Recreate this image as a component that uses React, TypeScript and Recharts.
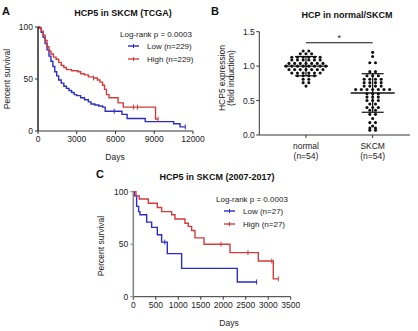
import React from "react";
import {
  LineChart,
  Line,
  ComposedChart,
  Scatter,
  XAxis,
  YAxis,
  ErrorBar,
  ReferenceLine,
  Label,
} from "recharts";

const FONT = "'Liberation Sans', Arial, Helvetica, sans-serif";
const BLUE = "#2d2dc6";
const RED = "#d43b3b";
const AXIS = "#333";

// Panel A: HCP5 in SKCM (TCGA), days vs percent survival (c = censored)
const A_DAY_TICKS = [0, 3000, 6000, 9000, 12000];
const A_PCT_TICKS = [0, 50, 100];
const A_LOW = [
  { d: 0, s: 100 }, { d: 100, s: 99 }, { d: 250, s: 95 }, { d: 400, s: 90 },
  { d: 550, s: 84 }, { d: 700, s: 78 }, { d: 850, s: 72 }, { d: 1000, s: 67 },
  { d: 1150, s: 62 }, { d: 1300, s: 57 }, { d: 1450, s: 53 }, { d: 1600, s: 49 },
  { d: 1800, s: 46 }, { d: 2000, s: 43 }, { d: 2200, s: 41 }, { d: 2400, s: 39 },
  { d: 2600, s: 37 }, { d: 2800, s: 35 }, { d: 3000, s: 34 }, { d: 3300, s: 32 },
  { d: 3600, s: 30 }, { d: 3900, s: 28 }, { d: 4100, s: 26 }, { d: 4400, s: 25 },
  { d: 4700, s: 24 }, { d: 5000, s: 23 }, { d: 5200, s: 19 }, { d: 5900, s: 19, c: 1 },
  { d: 6500, s: 16 }, { d: 6900, s: 12 }, { d: 8300, s: 9 }, { d: 10500, s: 7 },
  { d: 11000, s: 4 }, { d: 11400, s: 4, c: 1 },
];
const A_HIGH = [
  { d: 0, s: 100 }, { d: 150, s: 99 }, { d: 250, s: 96 }, { d: 400, s: 92 },
  { d: 550, s: 87 }, { d: 700, s: 81 }, { d: 850, s: 77 }, { d: 1000, s: 74 },
  { d: 1200, s: 71 }, { d: 1400, s: 69 }, { d: 1600, s: 66 }, { d: 1800, s: 63 },
  { d: 2000, s: 61 }, { d: 2200, s: 59 }, { d: 2600, s: 58 }, { d: 3100, s: 57 },
  { d: 3300, s: 55 }, { d: 3600, s: 54 }, { d: 3900, s: 52 }, { d: 4300, s: 51, c: 1 },
  { d: 4600, s: 49 }, { d: 4800, s: 47 }, { d: 5000, s: 44 }, { d: 5150, s: 40 },
  { d: 5300, s: 35 }, { d: 5500, s: 32 }, { d: 6200, s: 27 }, { d: 6600, s: 23 },
  { d: 7400, s: 23, c: 1 }, { d: 7700, s: 23, c: 1 }, { d: 9100, s: 11.5 },
  { d: 9300, s: 11.5, c: 1 },
];

// Panel B: HCP5 expression (fold induction), 54 samples per group
const B_GROUPS = ["normal", "SKCM"];
const B_COUNTS = ["(n=54)", "(n=54)"];
const B_TICKS = [0, 0.5, 1.0, 1.5];
const B_NORMAL = [
  1.22, 1.22,
  1.18, 1.18, 1.18,
  1.13, 1.13, 1.13, 1.13, 1.13, 1.13,
  1.09, 1.09, 1.09, 1.09, 1.09, 1.09,
  1.04, 1.04, 1.04, 1.04, 1.04, 1.04, 1.04,
  1.0, 1.0, 1.0, 1.0, 1.0, 1.0, 1.0, 1.0,
  0.95, 0.95, 0.95, 0.95, 0.95, 0.95, 0.95,
  0.9, 0.9, 0.9, 0.9, 0.9, 0.9,
  0.86, 0.86, 0.86, 0.86,
  0.81, 0.81,
  0.76, 0.76,
  0.71,
];
const B_SKCM = [
  1.2,
  1.14,
  1.05, 1.05,
  0.92, 0.92,
  0.86, 0.86, 0.86,
  0.81, 0.81, 0.81, 0.81,
  0.76, 0.76, 0.76, 0.76,
  0.71, 0.71, 0.71, 0.71,
  0.66, 0.66, 0.66, 0.66, 0.66, 0.66, 0.66,
  0.6, 0.6, 0.6,
  0.55, 0.55, 0.55,
  0.5, 0.5, 0.5,
  0.45, 0.45,
  0.4, 0.4, 0.4,
  0.36, 0.36,
  0.3, 0.3,
  0.24,
  0.18, 0.18,
  0.13,
  0.1, 0.1,
  0.07, 0.07,
];
const B_MEAN = [1.0, 0.61];
const B_SD = [0.14, 0.28];
const B_SIG_Y = 1.34;

// Panel C: HCP5 in SKCM (2007-2017)
const C_DAY_TICKS = [0, 500, 1000, 1500, 2000, 2500, 3000, 3500];
const C_PCT_TICKS = [0, 50, 100];
const C_LOW = [
  { d: 0, s: 100 }, { d: 22, s: 96 }, { d: 74, s: 86 }, { d: 119, s: 81 },
  { d: 148, s: 78 }, { d: 297, s: 71 }, { d: 408, s: 66 }, { d: 534, s: 59 },
  { d: 630, s: 52 }, { d: 700, s: 52, c: 1 }, { d: 756, s: 41 }, { d: 1075, s: 27 },
  { d: 2313, s: 14 }, { d: 2743, s: 14, c: 1 },
];
const C_HIGH = [
  { d: 0, s: 100 }, { d: 59, s: 96 }, { d: 133, s: 93 }, { d: 334, s: 89 },
  { d: 534, s: 85 }, { d: 630, s: 81 }, { d: 853, s: 78 }, { d: 927, s: 74 },
  { d: 1149, s: 70 }, { d: 1223, s: 67 }, { d: 1297, s: 63 }, { d: 1371, s: 56 },
  { d: 1572, s: 50 }, { d: 1950, s: 50, c: 1 }, { d: 2150, s: 42 },
  { d: 2550, s: 42, c: 1 }, { d: 2780, s: 34 }, { d: 3080, s: 34, c: 1 },
  { d: 3113, s: 17 }, { d: 3225, s: 17, c: 1 },
];

// Prism-style row layout of the dots around each group centre
function swarm(values: number[], center: number, step: number) {
  const rows = new Map<number, number>();
  values.forEach((v) => rows.set(v, (rows.get(v) ?? 0) + 1));
  const out: { x: number; y: number }[] = [];
  rows.forEach((n, v) => {
    for (let i = 0; i < n; i++) out.push({ x: center + (i - (n - 1) / 2) * step, y: v });
  });
  return out;
}

const DOTS = [...swarm(B_NORMAL, 1, 0.085), ...swarm(B_SKCM, 2, 0.085)];
const SUMMARY = B_MEAN.map((m, i) => ({ x: i + 1, y: m, sd: B_SD[i] }));

const tick = { fontSize: 8.5, fill: "#222", fontFamily: FONT };

const censorDot = (color: string) => (p: any) => {
  const { cx, cy, payload, index } = p;
  if (!payload || !payload.c) return <g key={"n" + index} />;
  return (
    <line key={"c" + index} x1={cx} x2={cx} y1={cy - 2.5} y2={cy + 2.5} stroke={color} strokeWidth={1} />
  );
};

function Survival({ low, high, dayTicks, pctTicks, width, height, margin, yAxisColor, yAxisWidth }: any) {
  const maxDay = dayTicks[dayTicks.length - 1];
  return (
    <LineChart width={width} height={height} margin={margin}>
      <XAxis
        type="number"
        dataKey="d"
        domain={[0, maxDay]}
        ticks={dayTicks}
        interval={0}
        tick={tick}
        tickSize={3}
        tickMargin={2}
        stroke={AXIS}
        height={20}
      />
      <YAxis
        type="number"
        dataKey="s"
        domain={[0, 100]}
        ticks={pctTicks}
        interval={0}
        tick={tick}
        tickSize={3}
        tickMargin={2}
        axisLine={{ stroke: yAxisColor, strokeWidth: 1.6 }}
        tickLine={{ stroke: yAxisColor }}
        width={yAxisWidth}
      />
      <Line data={low} dataKey="s" type="stepAfter" stroke={BLUE} strokeWidth={1.4}
        dot={censorDot(BLUE)} activeDot={false} isAnimationActive={false} />
      <Line data={high} dataKey="s" type="stepAfter" stroke={RED} strokeWidth={1.4}
        dot={censorDot(RED)} activeDot={false} isAnimationActive={false} />
    </LineChart>
  );
}

const GroupTick = (p: any) => {
  const { x, y, payload } = p;
  const i = payload.value - 1;
  return (
    <text x={x} y={y} textAnchor="middle" fontSize={8.5} fill="#222" fontFamily={FONT}>
      <tspan x={x} dy={9}>{B_GROUPS[i]}</tspan>
      <tspan x={x} dy={9.5}>{B_COUNTS[i]}</tspan>
    </text>
  );
};

const MeanShape = (p: any) => (
  <line x1={p.cx - 22} x2={p.cx + 22} y1={p.cy} y2={p.cy} stroke="#111" strokeWidth={1.3} />
);
const DotShape = (p: any) => <circle cx={p.cx} cy={p.cy} r={1.55} fill="#111" />;

function Legend({ x, y, low, high }: { x: number; y: number; low: string; high: string }) {
  const items = [
    { label: low, color: BLUE, dy: 12.5 },
    { label: high, color: RED, dy: 25.5 },
  ];
  return (
    <g fontFamily={FONT} fontSize={8} fill="#222">
      <text x={x} y={y}>Log-rank p = 0.0003</text>
      {items.map((it) => (
        <g key={it.label}>
          <line x1={x + 8} x2={x + 19} y1={y + it.dy - 3} y2={y + it.dy - 3} stroke={it.color} strokeWidth={1.4} />
          <line x1={x + 13.5} x2={x + 13.5} y1={y + it.dy - 5} y2={y + it.dy - 1} stroke={it.color} strokeWidth={1} />
          <text x={x + 27} y={y + it.dy}>{it.label}</text>
        </g>
      ))}
    </g>
  );
}

export default function App() {
  return (
    <div style={{ position: "absolute", left: 0, top: 0, width: 418, height: 331, background: "#fff" }}>
      <div style={{ position: "absolute", left: 0, top: 0 }}>
        <Survival
          low={A_LOW} high={A_HIGH} dayTicks={A_DAY_TICKS} pctTicks={A_PCT_TICKS}
          width={210} height={170} margin={{ top: 27, right: 17, left: 8, bottom: 19 }}
          yAxisColor={AXIS} yAxisWidth={30}
        />
      </div>

      <div style={{ position: "absolute", left: 210, top: 0 }}>
        <ComposedChart width={208} height={170} margin={{ top: 31.7, right: 8, left: 9.3, bottom: 10 }}>
          <XAxis
            type="number"
            dataKey="x"
            domain={[0.3, 2.56]}
            ticks={[1, 2]}
            interval={0}
            tick={<GroupTick />}
            tickSize={3}
            stroke={AXIS}
            height={25}
          />
          <YAxis
            type="number"
            dataKey="y"
            domain={[0, 1.5]}
            ticks={B_TICKS}
            interval={0}
            tickFormatter={(v: number) => v.toFixed(1)}
            tick={tick}
            tickSize={3}
            tickMargin={1.5}
            stroke={AXIS}
            width={40}
          />
          <ReferenceLine
            segment={[{ x: 1, y: B_SIG_Y }, { x: 2, y: B_SIG_Y }]}
            stroke="#111"
            strokeWidth={1.1}
          >
            <Label value="*" position="top" offset={2} fontSize={9} fill="#222" fontFamily={FONT} />
          </ReferenceLine>
          <Scatter data={DOTS} shape={<DotShape />} isAnimationActive={false} />
          <Scatter data={SUMMARY} shape={<MeanShape />} isAnimationActive={false}>
            <ErrorBar dataKey="sd" direction="y" width={11} stroke="#111" strokeWidth={1.2} isAnimationActive={false} />
          </Scatter>
        </ComposedChart>
      </div>

      <div style={{ position: "absolute", left: 80, top: 165 }}>
        <Survival
          low={C_LOW} high={C_HIGH} dayTicks={C_DAY_TICKS} pctTicks={C_PCT_TICKS}
          width={220} height={166} margin={{ top: 26.7, right: 9.3, left: 23.3, bottom: 14.3 }}
          yAxisColor="#888" yAxisWidth={30}
        />
      </div>

      <svg width={418} height={331} style={{ position: "absolute", left: 0, top: 0, pointerEvents: "none" }}>
        <g fontFamily={FONT} fill="#111">
          <text x={2} y={15} fontSize={11} fontWeight="bold">A</text>
          <text x={123} y={15.5} fontSize={9} fontWeight="bold" textAnchor="middle">HCP5 in SKCM (TCGA)</text>
          <text transform="translate(10,79) rotate(-90)" fontSize={8.5} textAnchor="middle" fill="#222">Percent survival</text>
          <text x={115} y={160} fontSize={8.5} textAnchor="middle" fill="#222">Days</text>

          <text x={211} y={14.5} fontSize={11} fontWeight="bold">B</text>
          <text x={347} y={18} fontSize={9} fontWeight="bold" textAnchor="middle">HCP in normal/SKCM</text>
          <text transform="translate(225,78) rotate(-90)" fontSize={8.5} textAnchor="middle" fill="#222">HCP5 expression</text>
          <text transform="translate(233.5,78) rotate(-90)" fontSize={8.5} textAnchor="middle" fill="#222">(fold induction)</text>

          <text x={96} y={177.5} fontSize={11} fontWeight="bold">C</text>
          <text x={217} y={180} fontSize={9} fontWeight="bold" textAnchor="middle">HCP5 in SKCM (2007-2017)</text>
          <text transform="translate(104,246) rotate(-90)" fontSize={8.5} textAnchor="middle" fill="#222">Percent survival</text>
          <text x={229} y={325.5} fontSize={8.5} textAnchor="middle" fill="#222">Days</text>
        </g>
        <Legend x={120} y={36.5} low="Low (n=229)" high="High (n=229)" />
        <Legend x={216} y={201.5} low="Low (n=27)" high="High (n=27)" />
      </svg>
    </div>
  );
}
